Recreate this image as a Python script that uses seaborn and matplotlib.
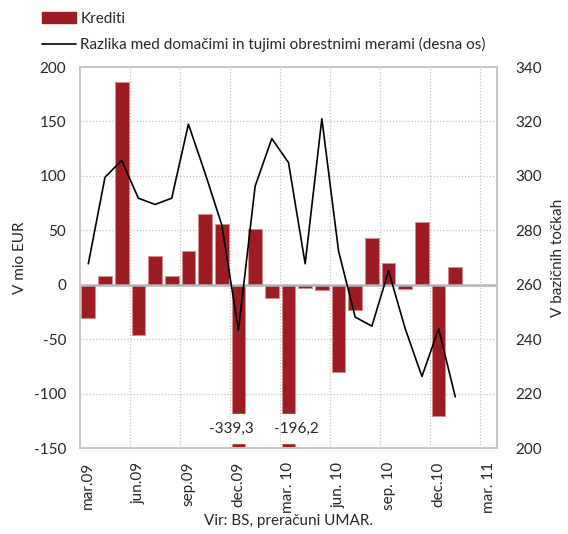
import numpy as np
import pandas as pd
import matplotlib
matplotlib.use('Agg')
import matplotlib.pyplot as plt
import seaborn as sns
from matplotlib.patches import Patch
from matplotlib.lines import Line2D

months = ['mar.09', 'apr.09', 'maj.09', 'jun.09', 'jul.09', 'avg.09', 'sep.09', 'okt.09',
          'nov.09', 'dec.09', 'jan.10', 'feb.10', 'mar.10', 'apr.10', 'maj.10', 'jun.10',
          'jul.10', 'avg.10', 'sep.10', 'okt.10', 'nov.10', 'dec.10', 'jan.11', 'feb.11', 'mar.11']
tick_labels = ['mar.09', 'jun.09', 'sep.09', 'dec.09', 'mar. 10', 'jun. 10', 'sep. 10', 'dec.10', 'mar. 11']

credits = [-30.5, 7.9, 185.8, -46.4, 26.2, 7.9, 31.4, 65.3, 56.1, -339.3, 51.0, -12.5,
           -196.2, -3.4, -4.9, -80.3, -22.9, 43.0, 19.8, -3.7, 57.4, -120.5, 15.9]
spread = [267.7, 299.5, 305.7, 291.8, 289.5, 291.8, 319.0, 301.0, 282.0, 243.3, 296.2, 313.7,
          304.9, 267.7, 321.0, 272.4, 248.1, 244.8, 265.1, 243.8, 226.3, 243.8, 218.8]

df = pd.DataFrame({'Mesec': months[:len(credits)], 'Krediti': credits})

bar_color = '#9c1c22'
ymin, ymax = -150, 200
cut_top, cut_bottom = -119, -145
fs = 11

sns.set_style('white')
plt.rcParams['font.family'] = ['Lato', 'DejaVu Sans']
plt.rcParams['font.size'] = fs
plt.rcParams['axes.unicode_minus'] = False

fig = plt.figure(figsize=(5.68, 5.34), dpi=100)
ax = fig.add_axes([0.1408, 0.161, 0.7342, 0.7135])

sns.barplot(data=df, x='Mesec', y='Krediti', order=months, color=bar_color,
            saturation=1, width=0.82, edgecolor='#d58c90', linewidth=0.7, ax=ax, zorder=2)

# axis break for values beyond the scale
for i, v in enumerate(credits):
    if v < ymin:
        ax.bar(i, cut_top - cut_bottom, bottom=cut_bottom, width=0.9, color='white', zorder=3)
label_shift = {9: -0.4, 12: 0.5}
for i, v in enumerate(credits):
    if v < ymin:
        ax.text(i + label_shift.get(i, 0), -132, f'{v:.1f}'.replace('.', ','),
                ha='center', va='center', fontsize=fs, zorder=4)

ax.set_ylim(ymin, ymax)
ax.set_yticks(range(-150, 201, 50))
ax.set_xlim(-0.5, len(months) - 0.5)
ax.set_xticks(range(0, len(months), 3))
ax.set_xticklabels(tick_labels, rotation=90)
ax.set_xticks(np.arange(2.5, len(months) - 1, 3), minor=True)
ax.axhline(0, color='#b5b5b5', lw=1.8, zorder=2.5)
ax.grid(True, axis='y', which='major', color='#c4c4c4', ls=(0, (1, 1.5)), lw=0.9)
ax.grid(True, axis='x', which='minor', color='#c4c4c4', ls=(0, (1, 1.5)), lw=0.9)
ax.grid(False, axis='x', which='major')
ax.set_axisbelow(True)
ax.tick_params(axis='both', which='both', length=0, pad=10, labelsize=fs)
ax.set_xlabel('Vir: BS, preračuni UMAR.', fontsize=fs, labelpad=1)
ax.set_ylabel('V mio EUR', fontsize=fs, labelpad=5)

ax2 = ax.twinx()
sns.lineplot(x=np.arange(len(spread)), y=spread, color='black', lw=1.2, ax=ax2, zorder=5)
ax2.set_ylim(200, 340)
ax2.set_yticks(range(200, 341, 20))
ax2.tick_params(axis='y', length=0, pad=13, labelsize=fs)
ax2.set_ylabel('V bazičnih točkah', fontsize=fs, labelpad=7)

for a in (ax, ax2):
    for s in a.spines.values():
        s.set_color('#c8c8c8')
        s.set_linewidth(1.3)

handles = [Patch(facecolor=bar_color, edgecolor=bar_color),
           Line2D([0], [0], color='black', lw=1.2)]
fig.legend(handles, ['Krediti', 'Razlika med domačimi in tujimi obrestnimi merami (desna os)'],
           loc='upper left', bbox_to_anchor=(0.05, 1.004), frameon=False, fontsize=fs,
           handlelength=2.2, handleheight=0.75, handletextpad=0.3, labelspacing=0.75)

fig.savefig('out.png', dpi=100)
